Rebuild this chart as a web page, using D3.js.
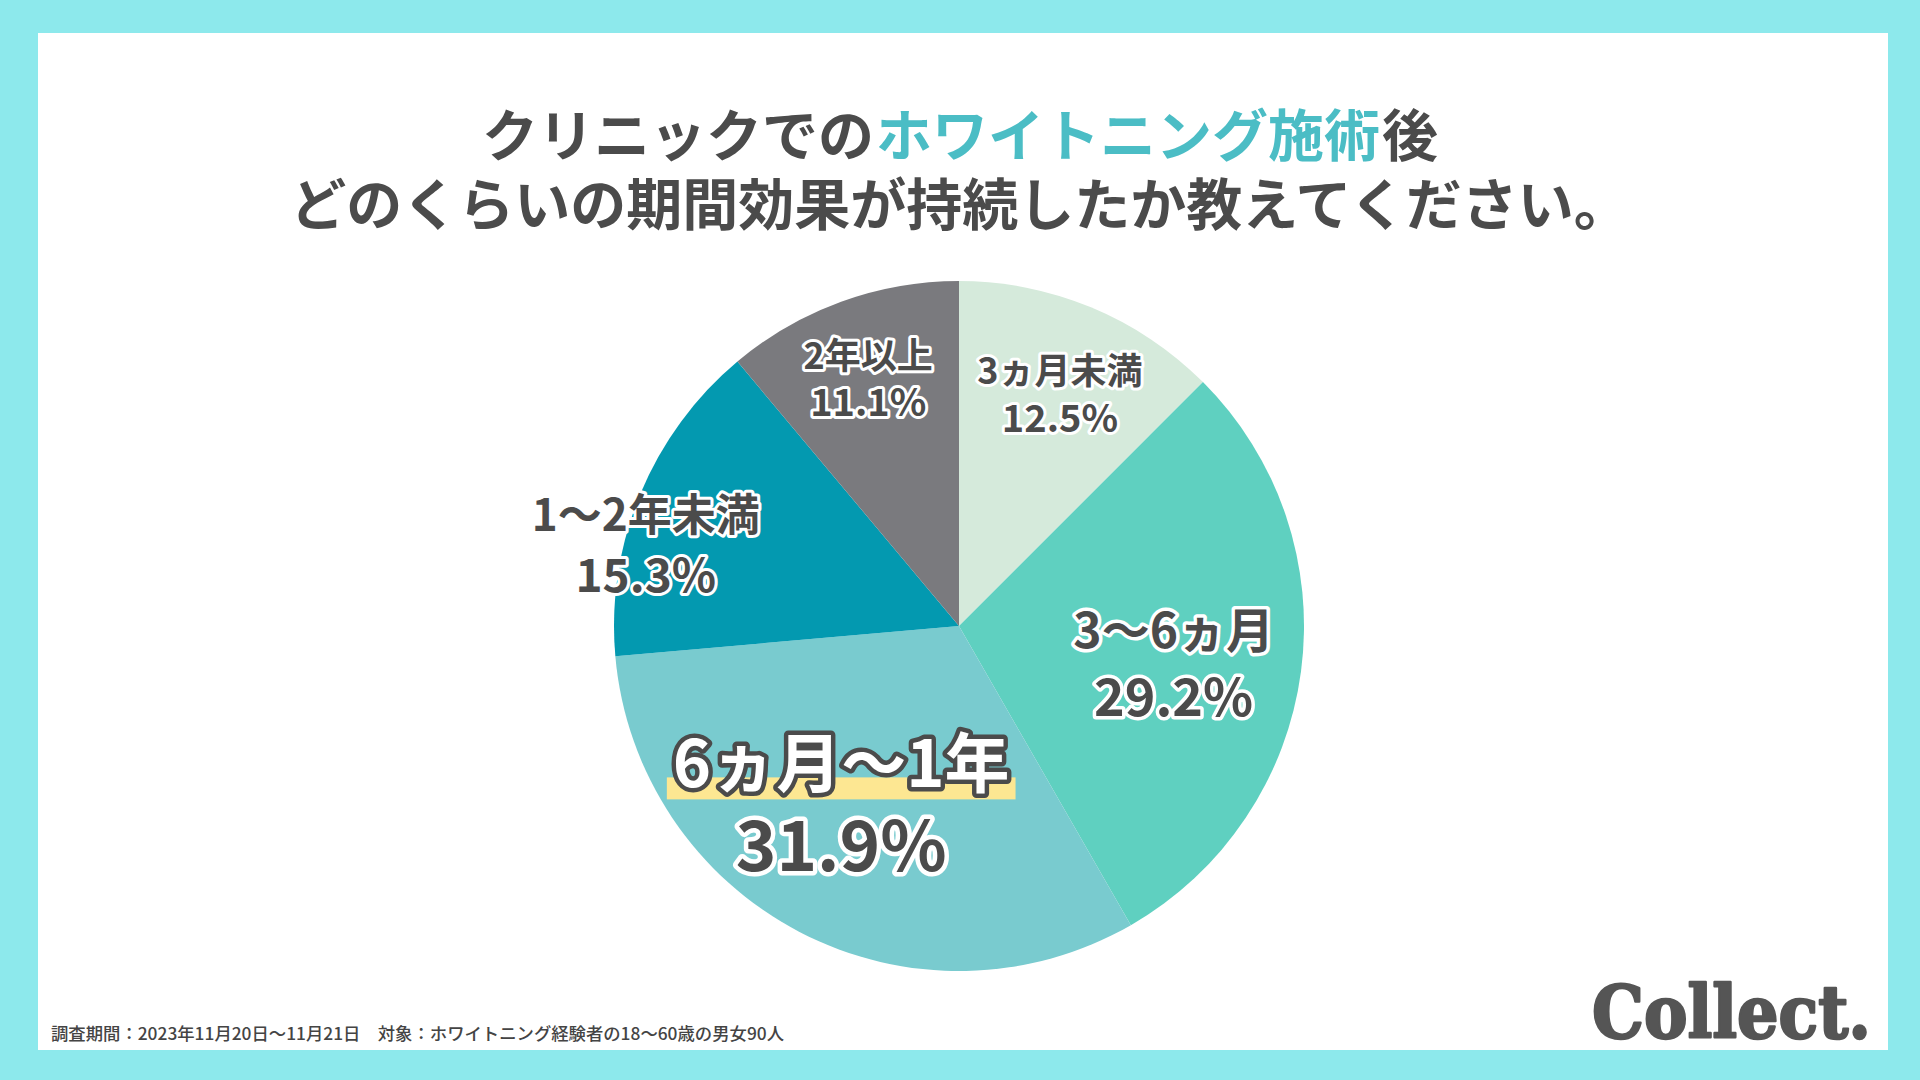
<!DOCTYPE html>
<html><head><meta charset="utf-8">
<script src="https://cdn.jsdelivr.net/npm/d3@7"></script>
<style>
html,body{margin:0;padding:0;background:#8de9ec;}
svg{display:block;}
</style></head>
<body>
<svg id="chart" width="1920" height="1080"></svg>
<script>
// ---- data ----
const categories = ["3ヵ月未満", "3〜6ヵ月", "6ヵ月〜1年", "1〜2年未満", "2年以上"];
const values = [12.5, 29.2, 31.9, 15.3, 11.1];
const colors = ["#d5eadb", "#5fd0c0", "#79cbcf", "#0399b0", "#7a7a7e"];
const titleLine1 = [["クリニックでの", false], ["ホワイトニング施術", true], ["後", false]];
const titleLine2 = "どのくらいの期間効果が持続したか教えてください。";
const footnote = "調査期間：2023年11月20日〜11月21日　対象：ホワイトニング経験者の18〜60歳の男女90人";
const brand = "Collect.";

// ---- layout ----
const W = 1920, H = 1080;
const cx = 959, cy = 626, R = 345;
const labelCfg = [
  {rf: 0.74, da: 0.8,  fs: 36, pfs: 38, gap: 48, stroke: 6},
  {rf: 0.63, da: 1.5,  fs: 48, pfs: 52, gap: 66, stroke: 7},
  {rf: 0.61, da: 6.5,  fs: 65, pfs: 69, gap: 82, stroke: 9, big: true},
  {rf: 0.94, da: -7.5, fs: 44, pfs: 46, gap: 60, stroke: 6},
  {rf: 0.77, da: 0,    fs: 36, pfs: 38, gap: 47, stroke: 6}
];
const FONT = "'Noto Sans CJK JP','Noto Sans',sans-serif";
const DARK = "#4b4b4b";
const TITLE_FS = 56;

const svg = d3.select("#chart");
svg.append("rect").attr("width", W).attr("height", H).attr("fill", "#8de9ec");
svg.append("rect").attr("x", 38).attr("y", 33).attr("width", 1850).attr("height", 1017).attr("fill", "#ffffff");

function measure(s, fs, fw) {
  const t = svg.append("text").attr("font-family", FONT).attr("font-weight", fw).attr("font-size", fs).text(s);
  const w = t.node().getComputedTextLength();
  t.remove();
  return w;
}
// title line 1: segments placed side by side
const segGap = 2;
const segW = titleLine1.map(([s]) => measure(s, TITLE_FS, 700));
const totalW = d3.sum(segW) + segGap * (segW.length - 1);
let xPos = 960 - totalW / 2;
titleLine1.forEach(([s, hl], i) => {
  svg.append("text").attr("x", xPos).attr("y", 131)
    .attr("dominant-baseline", "central")
    .attr("font-family", FONT).attr("font-weight", 700).attr("font-size", TITLE_FS)
    .attr("fill", hl ? "#4bbdc5" : DARK).text(s);
  xPos += segW[i] + segGap;
});
svg.append("text").attr("x", 960).attr("y", 200)
  .attr("text-anchor", "middle").attr("dominant-baseline", "central")
  .attr("font-family", FONT).attr("font-weight", 700).attr("font-size", TITLE_FS).attr("fill", DARK)
  .text(titleLine2);

// pie
const pie = d3.pie().sort(null).value(d => d)(values);
const arc = d3.arc().innerRadius(0).outerRadius(R);
const g = svg.append("g").attr("transform", `translate(${cx},${cy})`);
g.selectAll("path").data(pie).join("path")
  .attr("d", arc).attr("fill", (d, i) => colors[i]);

// labels
const lg = g.append("g");
pie.forEach((d, i) => {
  const c = labelCfg[i];
  const a = (d.startAngle + d.endAngle) / 2 + c.da * Math.PI / 180;
  const r = R * c.rf;
  const x = r * Math.sin(a), y = -r * Math.cos(a);
  const y1 = y - c.gap / 2, y2 = y + c.gap / 2;
  const grp = lg.append("g");
  if (c.big) {
    const bw = measure(categories[i], c.fs, 700);
    grp.append("rect").attr("x", x - bw / 2 - 6).attr("y", y1 + 18)
      .attr("width", bw + 12).attr("height", 22).attr("fill", "#fde792");
  }
  grp.append("text").attr("x", x).attr("y", y1)
    .attr("text-anchor", "middle").attr("dominant-baseline", "central")
    .attr("font-family", FONT).attr("font-weight", 700).attr("font-size", c.fs)
    .attr("fill", c.big ? "#ffffff" : DARK)
    .attr("stroke", c.big ? DARK : "#ffffff").attr("stroke-width", c.stroke)
    .attr("stroke-linejoin", "round").attr("paint-order", "stroke")
    .text(categories[i]);
  grp.append("text").attr("x", x).attr("y", y2)
    .attr("text-anchor", "middle").attr("dominant-baseline", "central")
    .attr("font-family", FONT).attr("font-weight", 700).attr("font-size", c.pfs)
    .attr("fill", DARK).attr("stroke", "#ffffff").attr("stroke-width", c.stroke)
    .attr("stroke-linejoin", "round").attr("paint-order", "stroke")
    .text(values[i].toFixed(1) + "%");
});

// footnote
svg.append("text").attr("x", 51).attr("y", 1032)
  .attr("dominant-baseline", "central")
  .attr("font-family", FONT).attr("font-weight", 500).attr("font-size", 17).attr("fill", "#444")
  .attr("textLength", 733).attr("lengthAdjust", "spacingAndGlyphs")
  .text(footnote);

// brand
svg.append("text").attr("x", 1592).attr("y", 1038)
  .attr("font-family", "'DejaVu Serif',serif").attr("font-weight", 700).attr("font-size", 72)
  .attr("fill", "#555555").attr("stroke", "#555555").attr("stroke-width", 2.5)
  .attr("stroke-linejoin", "round")
  .attr("textLength", 279).attr("lengthAdjust", "spacingAndGlyphs")
  .text(brand);
</script>
</body></html>
